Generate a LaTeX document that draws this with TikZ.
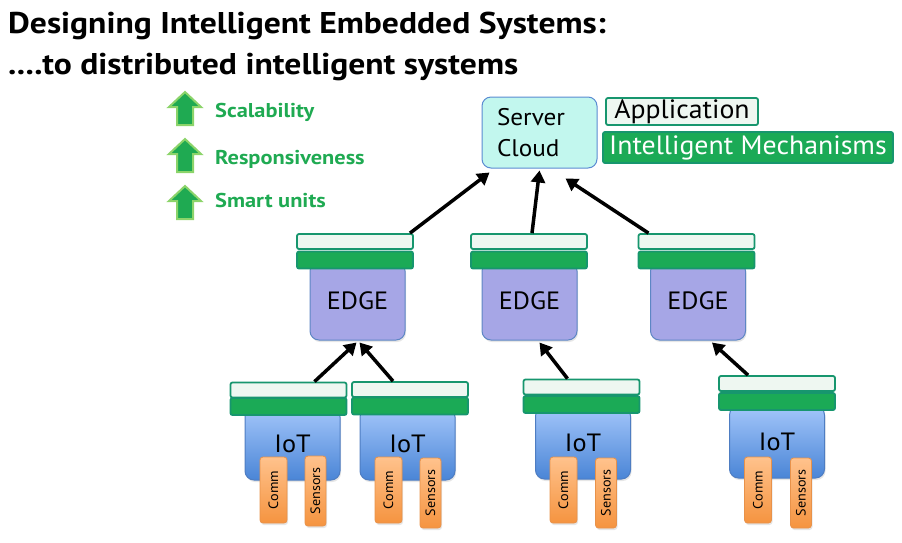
\documentclass[tikz,border=0pt]{standalone}
\usepackage{fontspec}
\setmainfont{PT Sans}
\newfontfamily\widesans{PT Sans}[FakeStretch=1.12]
\newfontfamily\midsans{PT Sans}[FakeStretch=1.05]
\usetikzlibrary{arrows.meta,shadows}

\definecolor{barline}{HTML}{17966E}
\definecolor{appfill}{HTML}{EEF7F1}
\definecolor{mechgreen}{HTML}{1BAA56}
\definecolor{perkgreen}{HTML}{1FAA52}
\definecolor{perklight}{HTML}{8CD46A}
\definecolor{cloudfill}{HTML}{C2F7EE}
\definecolor{cloudline}{HTML}{5A8BD2}
\definecolor{edgefill}{HTML}{A6A6E6}
\definecolor{edgeline}{HTML}{5D86C4}
\definecolor{iottop}{HTML}{A3C6FA}
\definecolor{iotbot}{HTML}{4A85D6}
\definecolor{iotline}{HTML}{4E7DC2}
\definecolor{parttop}{HTML}{FFC28C}
\definecolor{partbot}{HTML}{F59440}
\definecolor{partline}{HTML}{E8924A}

\begin{document}
\begin{tikzpicture}[x=1pt,y=-1pt]

    \tikzset{
      titletext/.style={
        font=\widesans\fontsize{30}{34}\selectfont\bfseries,
        inner sep=0pt,
        anchor=base west,
      },
      perk/.style={
        font=\widesans\fontsize{20}{22}\selectfont\bfseries,
        text=perkgreen,
        inner sep=0pt,
        anchor=west,
      },
      upmark/.style={
        draw=perklight,
        line width=2pt,
        fill=perkgreen,
      },
      cloudbox/.style={
        draw=cloudline,
        line width=1pt,
        fill=cloudfill,
        rounded corners=9pt,
        font=\midsans\fontsize{24}{31}\selectfont,
        align=left,
        text width=85pt,
        inner xsep=15pt,
        minimum height=71pt,
      },
      topbar/.style={
        draw=barline,
        line width=1.8pt,
        fill=appfill,
        rounded corners=2pt,
        inner sep=0pt,
        minimum width=116pt,
        minimum height=15pt,
      },
      mechbar/.style={
        topbar,
        fill=mechgreen,
        minimum height=17pt,
      },
      legendtext/.style={
        font=\midsans\fontsize{26.5}{30}\selectfont,
      },
      edgebox/.style={
        draw=edgeline,
        line width=1pt,
        fill=edgefill,
        rounded corners=9pt,
        minimum width=95pt,
        minimum height=78pt,
        font=\midsans\fontsize{25}{28}\selectfont,
        drop shadow={opacity=0.2,shadow xshift=1pt,shadow yshift=-2pt},
      },
      iotbox/.style={
        draw=iotline,
        line width=1pt,
        top color=iottop,
        bottom color=iotbot,
        rounded corners=9pt,
        minimum width=95pt,
        minimum height=72pt,
        font=\midsans\fontsize{25}{28}\selectfont,
        drop shadow={opacity=0.2,shadow xshift=1pt,shadow yshift=-2pt},
      },
      partbox/.style={
        draw=partline,
        line width=0.8pt,
        top color=parttop,
        bottom color=partbot,
        rounded corners=3pt,
        rotate=90,
        inner sep=0pt,
        font=\midsans\fontsize{13.5}{14}\selectfont,
        drop shadow={opacity=0.2,shadow xshift=1pt,shadow yshift=-2pt},
      },
      commbox/.style={partbox, minimum width=66pt, minimum height=27pt},
      sensbox/.style={partbox, minimum width=70pt, minimum height=21pt},
      link/.style={
        line width=3.5pt,
        -{Triangle[length=12pt,width=14pt]},
      },
    }
    \useasboundingbox (0,0) rectangle (902,542);

    % title
    \node[titletext] (title1) at (8,33) {Designing Intelligent Embedded Systems:};
    \node[titletext] (title2) at (8,74) {....to distributed intelligent systems};

    % green gains
    \coordinate (u1) at (185,92);
    \coordinate (u2) at (185,139);
    \coordinate (u3) at (185,186);
    \draw[upmark] (u1) -- ++(16,15) -- ++(-8,0) -- ++(0,18) -- ++(-16,0) -- ++(0,-18) -- ++(-8,0) -- cycle;
    \draw[upmark] (u2) -- ++(16,15) -- ++(-8,0) -- ++(0,18) -- ++(-16,0) -- ++(0,-18) -- ++(-8,0) -- cycle;
    \draw[upmark] (u3) -- ++(16,15) -- ++(-8,0) -- ++(0,18) -- ++(-16,0) -- ++(0,-18) -- ++(-8,0) -- cycle;
    \node[perk] (scal) at (215,112) {Scalability};
    \node[perk] (resp) at (215,159) {Responsiveness};
    \node[perk] (smart) at (215,200) {Smart units};

    % server and legend
    \node[cloudbox] (srv) at (539.5,132.5) {Server\\Cloud};
    \node[topbar, minimum width=152pt, minimum height=27pt, legendtext] (app) at (682,111.5) {Application};
    \node[mechbar, minimum width=290pt, minimum height=31pt, text=white, legendtext] (mech) at (748,147.5) {Intelligent Mechanisms};

    % edge nodes
    \node[edgebox] (e1) at (357.5,301) {EDGE};
    \node[edgebox] (e2) at (529.5,301) {EDGE};
    \node[edgebox] (e3) at (698,301) {EDGE};
    \node[mechbar] (e1m) at (355,260) {};
    \node[mechbar] (e2m) at (529,260) {};
    \node[mechbar] (e3m) at (696.5,260) {};
    \node[topbar] (e1a) at (355,241.5) {};
    \node[topbar] (e2a) at (529,241.5) {};
    \node[topbar] (e3a) at (696.5,241.5) {};

    % iot nodes
    \node[iotbox] (i1) at (292.5,444) {IoT};
    \node[iotbox] (i2) at (407.5,444) {IoT};
    \node[iotbox] (i3) at (583,443) {IoT};
    \node[iotbox] (i4) at (777,442) {IoT};
    \node[mechbar] (i1m) at (288.5,406.5) {};
    \node[mechbar] (i2m) at (410,406) {};
    \node[mechbar] (i3m) at (581.5,404.5) {};
    \node[mechbar] (i4m) at (777,401.5) {};
    \node[topbar] (i1a) at (288.5,390) {};
    \node[topbar] (i2a) at (410,389.5) {};
    \node[topbar] (i3a) at (581.5,387) {};
    \node[topbar] (i4a) at (777,383.5) {};

    % comm and sensors
    \node[commbox] (c1) at (273.5,490) {Comm};
    \node[sensbox] (s1) at (315.5,491) {Sensors};
    \node[commbox] (c2) at (388.5,490) {Comm};
    \node[sensbox] (s2) at (430.5,493) {Sensors};
    \node[commbox] (c3) at (563.5,490) {Comm};
    \node[sensbox] (s3) at (606,493) {Sensors};
    \node[commbox] (c4) at (758,490) {Comm};
    \node[sensbox] (s4) at (801,493) {Sensors};

    % links
    \draw[link] ([xshift=55pt]e1a.north) -- ([xshift=8pt,yshift=-4pt]srv.south west);
    \draw[link] ([xshift=3pt]e2a.north) -- ([yshift=-2pt]srv.south);
    \draw[link] ([xshift=-48pt]e3a.north) -- ([xshift=26pt,yshift=-10pt]srv.south);
    \draw[link] ([xshift=26pt]i1a.north) -- ([xshift=-1pt,yshift=-2pt]e1.south);
    \draw[link] ([xshift=-17pt]i2a.north) -- ([xshift=2pt,yshift=-2pt]e1.south);
    \draw[link] ([xshift=-14pt]i3a.north) -- ([xshift=10pt,yshift=-2pt]e2.south);
    \draw[link] ([xshift=-29pt]i4a.north) -- ([xshift=14pt,yshift=-2pt]e3.south);

\end{tikzpicture}
\end{document}
